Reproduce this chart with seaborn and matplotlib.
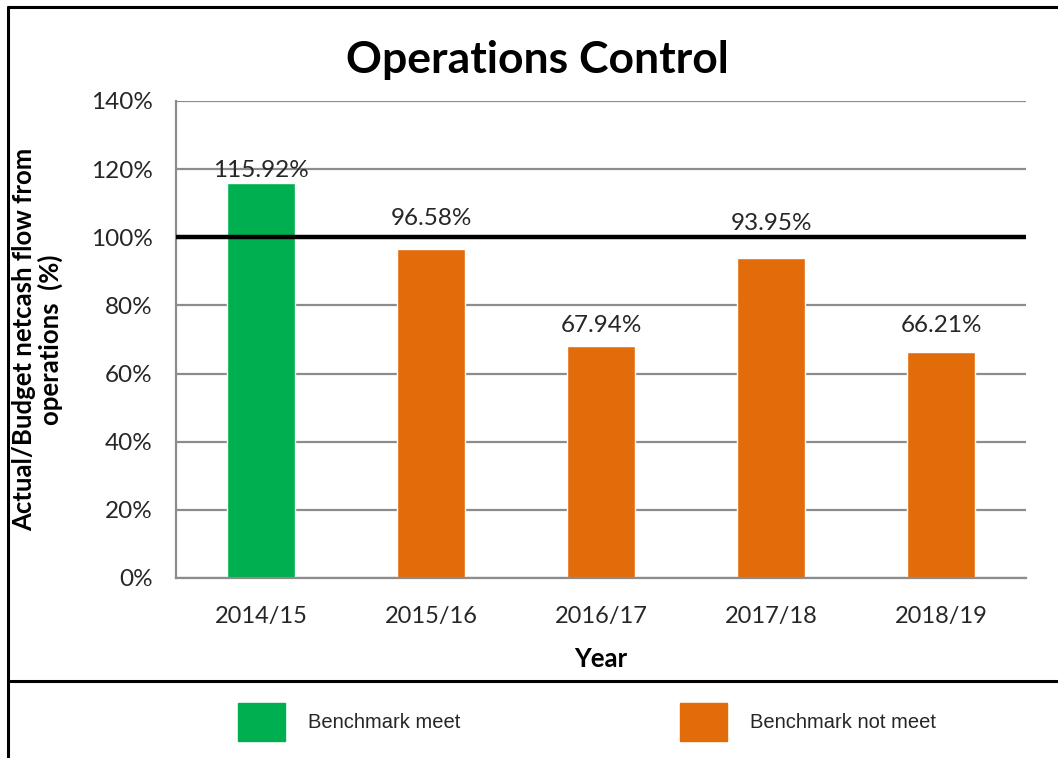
import matplotlib
matplotlib.use("Agg")
import matplotlib.pyplot as plt
import seaborn as sns
import pandas as pd
from matplotlib.patches import Rectangle
from matplotlib.lines import Line2D
from matplotlib.ticker import PercentFormatter

# ====================== DATA ======================
years = ["2014/15", "2015/16", "2016/17", "2017/18", "2018/19"]
ratio = [115.92, 96.58, 67.94, 93.95, 66.21]
status = ["Benchmark meet", "Benchmark not meet", "Benchmark not meet",
          "Benchmark not meet", "Benchmark not meet"]
benchmark = 100
# labels were placed by hand in the original, gap above each bar (in %)
label_gap = [3.7, 9.0, 6.3, 10.2, 8.0]

GREEN = "#00B050"
ORANGE = "#E36C0A"
palette = {"Benchmark meet": GREEN, "Benchmark not meet": ORANGE}

df = pd.DataFrame({"Year": years, "Ratio": ratio, "Status": status})

# ====================== PLOT ======================
sns.set_style("white")
plt.rcParams["font.family"] = ["Lato", "DejaVu Sans"]
TXT = "#262626"

fig = plt.figure(figsize=(10.58, 7.58), dpi=100)
ax = fig.add_axes([0.1664, 0.2375, 0.8034, 0.6293])

sns.barplot(data=df, x="Year", y="Ratio", hue="Status", palette=palette,
            dodge=False, width=0.4, saturation=1, legend=False, ax=ax)

ax.set_ylim(0, 140)
ax.set_yticks(range(0, 141, 20))
ax.yaxis.set_major_formatter(PercentFormatter(decimals=0))
ax.set_xlim(-0.5, len(years) - 0.5)
ax.grid(axis="y", color="#8c8c8c", linewidth=1.6)
ax.set_axisbelow(True)
for s in ["top", "right"]:
    ax.spines[s].set_visible(False)
for s in ["left", "bottom"]:
    ax.spines[s].set_color("#8c8c8c")
    ax.spines[s].set_linewidth(1.6)
ax.tick_params(axis="y", labelsize=17.5, colors=TXT, length=0, pad=17)
ax.tick_params(axis="x", labelsize=17, colors=TXT, length=0, pad=20)

ax.axhline(benchmark, color="black", linewidth=3.2, zorder=5)

for i, v in enumerate(ratio):
    ax.text(i, v + label_gap[i], f"{v:.2f}%", ha="center", va="center",
            fontsize=17.5, color=TXT, zorder=6)

ax.set_xlabel("Year", fontsize=18.5, fontweight="bold", color="black")
ax.xaxis.set_label_coords(0.5, -0.144)
ax.set_ylabel("Actual/Budget netcash flow from\noperations  (%)",
              fontsize=18.5, fontweight="bold", color="black",
              linespacing=1.05, multialignment="center")
ax.yaxis.set_label_coords(-0.133, 0.5)

fig.text(0.508, 0.921, "Operations Control", ha="center", va="center",
         fontsize=32, fontweight="bold", color="black")

# frame around chart + separator
fig.add_artist(Line2D([0.0076, 0.0076], [0.0, 0.991], color="black", lw=2.2,
                      transform=fig.transFigure))
fig.add_artist(Line2D([0.0076, 1.0], [0.991, 0.991], color="black", lw=2.2,
                      transform=fig.transFigure))
fig.add_artist(Line2D([0.0076, 1.0], [0.1016, 0.1016], color="black", lw=2.2,
                      transform=fig.transFigure))

# legend below
for x0, lbl in [(0.225, "Benchmark meet"), (0.643, "Benchmark not meet")]:
    fig.add_artist(Rectangle((x0, 0.0225), 0.0444, 0.050, color=palette[lbl],
                             transform=fig.transFigure))
    fig.text(x0 + 0.066, 0.047, lbl, ha="left", va="center", fontsize=14.5,
             family="Liberation Sans", color=TXT)

fig.savefig("out.png", dpi=100)
